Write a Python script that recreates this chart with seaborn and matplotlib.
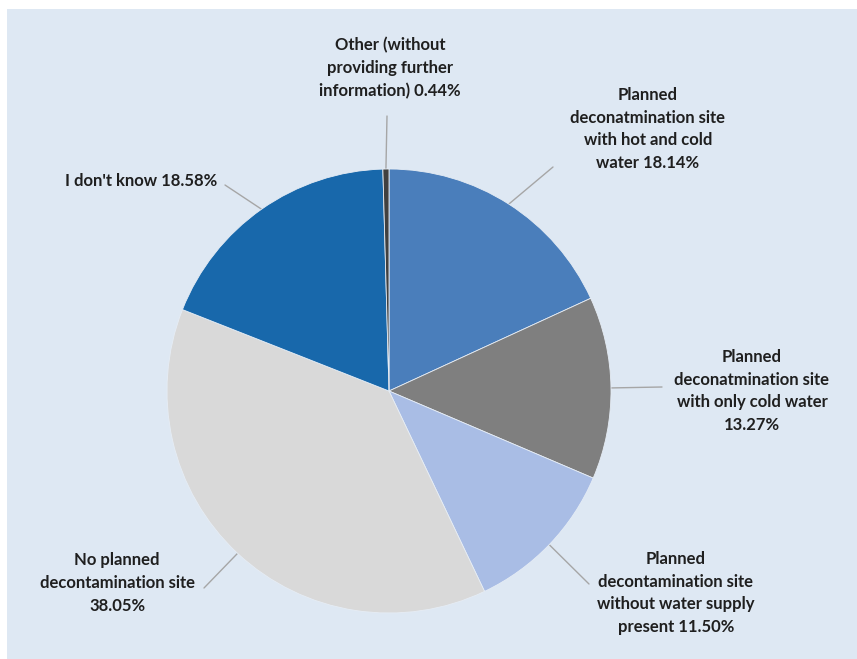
import matplotlib
matplotlib.use("Agg")
import matplotlib.pyplot as plt
import seaborn as sns
import numpy as np
from matplotlib.patches import Rectangle

# ---- data ----
categories = [
    "Planned\ndeconatmination site\nwith hot and cold\nwater",
    "Planned\ndeconatmination site\nwith only cold water\n",
    "Planned\ndecontamination site\nwithout water supply\npresent",
    "No planned\ndecontamination site\n",
    "I don't know",
    "Other (without\nproviding further\ninformation)",
]
values = [18.14, 13.27, 11.50, 38.05, 18.58, 0.44]
colors = ["#4a7ebb", "#7f7f7f", "#a9bde5", "#d9d9d9", "#1868ab", "#404040"]

sns.set_style("white")
plt.rcParams["font.family"] = ["Lato", "DejaVu Sans"]

W, H = 857, 659
fig = plt.figure(figsize=(W / 100, H / 100), dpi=100, facecolor="white")
bg = Rectangle((7 / W, 0), 1 - 7 / W, (H - 9) / H,
               transform=fig.transFigure, facecolor="#dee8f3",
               edgecolor="none", zorder=-10)
fig.add_artist(bg)

cx, cy, R = 389, 391, 222
ax = fig.add_axes([(cx - R) / W, (H - cy - R) / H, 2 * R / W, 2 * R / H])
ax.set_zorder(5)
ax.set_facecolor("none")
wedges, _ = ax.pie(values, colors=sns.color_palette(colors), startangle=90,
                   counterclock=False, radius=1,
                   wedgeprops=dict(linewidth=0.6, edgecolor="#e6edf5"))
ax.set_xlim(-1, 1)
ax.set_ylim(-1, 1)
ax.set_aspect("equal")
ax.axis("off")

def px(x, y):
    return ((x - cx) / R, (cy - y) / R)

# label anchor (pixel) / leader end (pixel)
label_pos = [(648, 129), (752, 391), (676, 593), (117, 583), (141, 181), (390, 68)]
leader_end = [(553, 167), (662, 387), (589, 584), (204, 588), (225, 185), (387, 116)]

for w, cat, val, lp, le in zip(wedges, categories, values, label_pos, leader_end):
    ang = np.deg2rad((w.theta1 + w.theta2) / 2)
    start = (np.cos(ang), np.sin(ang))
    end = px(*le)
    ax.plot([start[0], end[0]], [start[1], end[1]], color="#a6a6a6",
            lw=1.0, clip_on=False, zorder=0.5)
    if cat.endswith("\n"):
        txt = cat + f"{val:.2f}%"
    else:
        txt = cat + f" {val:.2f}%"
    tx, ty = px(*lp)
    ax.text(tx, ty, txt, ha="center", va="center", multialignment="center",
            fontsize=12, fontweight="bold", color="#1f1f1f",
            linespacing=1.52, clip_on=False)

fig.savefig("out.png", dpi=100, facecolor="white")
